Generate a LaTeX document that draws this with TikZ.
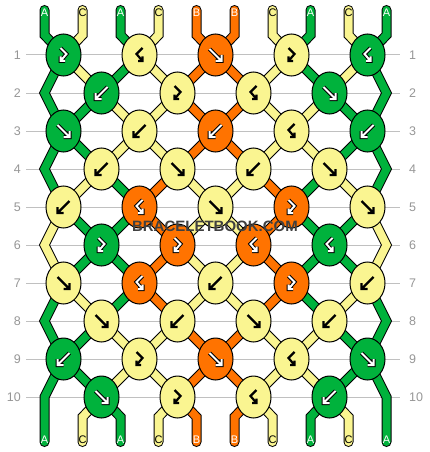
\documentclass[tikz,border=0pt]{standalone}
\usepackage{fontspec}
\setmainfont{Liberation Sans}
\usetikzlibrary{shapes.geometric,backgrounds}

\definecolor{colA}{RGB}{0,178,60}
\definecolor{colB}{RGB}{255,115,0}
\definecolor{colC}{RGB}{250,245,145}
\definecolor{rowgray}{RGB}{192,192,192}
\definecolor{numgray}{RGB}{150,150,150}
\definecolor{wmgray}{RGB}{64,64,64}

\tikzset{
  knot/.style={ellipse, draw=black, line width=1pt, minimum width=35pt,
    minimum height=42pt, inner sep=0pt},
  strand/.style={draw=black, line width=1pt, double=col#1,
    double distance=8pt, line join=miter, line cap=round},
  rowline/.style={rowgray, line width=1pt},
  rownum/.style={numgray, inner sep=0pt, font=\fontsize{12.5}{14}\selectfont},
  endlbl/.style={inner sep=0pt, font=\fontsize{11}{13}\selectfont},
  lblA/.style={endlbl, white}, lblB/.style={endlbl, white},
  lblC/.style={endlbl, black},
  arrA/.style={white, line width=2pt, preaction={draw=black, line width=4pt}},
  arrB/.style={arrA},
  arrC/.style={black, line width=2.2pt},
  wmark/.style={inner sep=0pt, font=\fontsize{15}{17}\bfseries},
  % knot arrows
  arrf/.pic={\draw[#1] (-6,-6) -- (6,6) (0,6) -- (6,6) -- (6,0);},
  arrb/.pic={\draw[#1] (6,-6) -- (-6,6) (0,6) -- (-6,6) -- (-6,0);},
  arrfb/.pic={\draw[#1] (-3,-7) -- (3,-1) -- (-3,6) (-3,1.5) -- (-3,6) -- (1.5,6);},
  arrbf/.pic={\draw[#1] (3,-7) -- (-3,-1) -- (3,6) (3,1.5) -- (3,6) -- (-1.5,6);},
}

\begin{document}
\begin{tikzpicture}[x=1pt, y=-1pt]
\useasboundingbox (0,0) rectangle (430,452);

% knots, row by row
\foreach \r/\row in {1/{A/fb,C/bf,B/f,C/fb,A/bf}, 2/{A/b,C/fb,C/bf,A/f},
    3/{A/f,C/b,B/b,C/bf,A/b}, 4/{C/b,C/f,C/b,C/f},
    5/{C/b,B/bf,C/f,B/fb,C/f}, 6/{A/fb,B/fb,B/bf,A/bf},
    7/{C/f,B/bf,C/b,B/fb,C/b}, 8/{C/f,C/b,C/f,C/b},
    9/{A/b,C/fb,B/f,C/bf,A/f}, 10/{A/f,C/fb,C/bf,A/b}}
  \foreach \kc/\ty [count=\i] in \row {
    \pgfmathsetmacro\kx{mod(\r,2)==1 ? 63.5+76*(\i-1) : 101.5+76*(\i-1)}
    \node[knot, fill=col\kc] (k\r-\i) at (\kx, 17+38*\r) {};
    \pic at (k\r-\i) {arr\ty=arr\kc};
  }

% row numbers
\foreach \r in {1,...,10} {
  \node[rownum, anchor=east] (nl\r) at (21, 17+38*\r) {\r};
  \node[rownum, anchor=west] (nr\r) at (409, 17+38*\r) {\r};
}

% string ends
\foreach \kc [count=\p from 0] in {A,C,A,C,B,B,C,A,C,A} {
  \coordinate (top\p) at (44.5+38*\p, 10);
  \coordinate (bot\p) at (44.5+38*\p, 442);
  \node[lbl\kc] (tl\p) at (44.5+38*\p, 13) {\kc};
  \node[lbl\kc] (bl\p) at (44.5+38*\p, 440) {\kc};
}

\begin{pgfonlayer}{background}
  \foreach \r in {1,...,10}
    \draw[rowline, shorten <=5pt, shorten >=9pt] (nl\r.east) -- (nr\r.west);

  % top of the strings
  \foreach \kc [count=\p from 0] in {A,C,A,C,B,B,C,A,C,A} {
    \pgfmathtruncatemacro\i{floor(\p/2)+1}
    \draw[strand=\kc] (top\p) -- ++(0,25) -- (k1-\i.center);
  }

  % between rows
  \foreach \r/\cols in {1/{C,A,C,B,B,C,A,C}, 2/{A,C,C,B,B,C,C,A},
      3/{A,C,C,B,B,C,C,A}, 4/{C,A,B,C,C,B,A,C}, 5/{A,A,B,C,C,B,A,A},
      6/{A,A,B,C,C,B,A,A}, 7/{C,A,B,C,C,B,A,C}, 8/{A,C,C,B,B,C,C,A},
      9/{A,C,C,B,B,C,C,A}}
    \foreach \kc [count=\p] in \cols {
      \pgfmathtruncatemacro\rn{\r+1}
      \pgfmathtruncatemacro\a{mod(\r,2)==1 ? floor(\p/2)+1 : floor((\p-1)/2)+1}
      \pgfmathtruncatemacro\b{mod(\r,2)==1 ? floor((\p-1)/2)+1 : floor(\p/2)+1}
      \draw[strand=\kc] (k\r-\a.center) -- (k\rn-\b.center);
    }

  % outer strings on even rows
  \foreach \r/\cl/\cr in {2/A/A, 4/A/A, 6/C/C, 8/A/A} {
    \pgfmathtruncatemacro\ra{\r-1}
    \pgfmathtruncatemacro\rb{\r+1}
    \coordinate (eL\r) at (44.5, 17+38*\r);
    \coordinate (eR\r) at (386.5, 17+38*\r);
    \draw[strand=\cl] (k\ra-1.center) -- (eL\r) -- (k\rb-1.center);
    \draw[strand=\cr] (k\ra-5.center) -- (eR\r) -- (k\rb-5.center);
  }

  % bottom of the strings
  \coordinate (eL10) at (44.5, 397);
  \coordinate (eR10) at (386.5, 397);
  \draw[strand=A] (k9-1.center) -- (eL10) -- (bot0);
  \draw[strand=A] (k9-5.center) -- (eR10) -- (bot9);
  \foreach \kc [count=\p] in {C,A,C,B,B,C,A,C} {
    \pgfmathtruncatemacro\i{floor((\p-1)/2)+1}
    \draw[strand=\kc] (k10-\i.center) -- ([yshift=25pt]bot\p) -- (bot\p);
  }
\end{pgfonlayer}

% watermark
\node[wmark, wmgray] (wm) at (215,226) {BRACELETBOOK.COM};
\end{tikzpicture}
\end{document}
